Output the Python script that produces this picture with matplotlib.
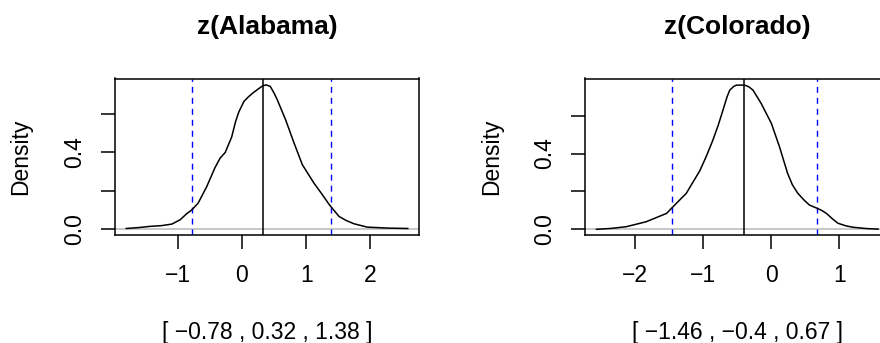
import matplotlib
matplotlib.use('Agg')
import matplotlib.pyplot as plt

plt.rcParams['font.family'] = ['Liberation Sans', 'DejaVu Sans']
plt.rcParams['lines.scale_dashes'] = False

# ── data ─────────────────────────────────────────────────────────────────────
names = ['Alabama', 'Colorado']

ala_x = [-1.80, -1.60, -1.43, -1.25, -1.09, -0.96, -0.86, -0.78, -0.68, -0.62,
         -0.55, -0.42, -0.34, -0.26, -0.16, -0.10, -0.05, 0.03, 0.10, 0.18,
         0.31, 0.375, 0.44, 0.50, 0.55, 0.68, 0.81, 0.94, 1.12, 1.25,
         1.36, 1.51, 1.62, 1.74, 1.95, 2.27, 2.58]
ala_y = [0.003, 0.008, 0.014, 0.018, 0.026, 0.049, 0.080, 0.100, 0.136, 0.175,
         0.22, 0.32, 0.37, 0.40, 0.48, 0.56, 0.61, 0.666, 0.69, 0.713,
         0.745, 0.753, 0.745, 0.71, 0.675, 0.57, 0.45, 0.336, 0.24, 0.18,
         0.127, 0.066, 0.045, 0.028, 0.010, 0.005, 0.003]

col_x = [-2.57, -2.35, -2.13, -1.84, -1.54, -1.47, -1.36, -1.25, -1.15, -1.05,
         -0.95, -0.86, -0.78, -0.71, -0.65, -0.61, -0.55, -0.51, -0.39, -0.33,
         -0.27, -0.15, 0.0, 0.12, 0.24, 0.31, 0.39, 0.48, 0.56, 0.68,
         0.74, 0.81, 0.90, 0.98, 1.10, 1.20, 1.40, 1.57]
col_y = [0.0, 0.005, 0.014, 0.04, 0.084, 0.11, 0.15, 0.19, 0.25, 0.31,
         0.39, 0.47, 0.55, 0.63, 0.70, 0.735, 0.755, 0.761, 0.761, 0.752,
         0.735, 0.665, 0.56, 0.436, 0.295, 0.235, 0.19, 0.155, 0.128, 0.11,
         0.10, 0.084, 0.055, 0.032, 0.018, 0.011, 0.004, 0.001]

# lower quantile, median, upper quantile
ala_q = [-0.78, 0.32, 1.38]
col_q = [-1.46, -0.4, 0.67]

curves = [(ala_x, ala_y, ala_q), (col_x, col_y, col_q)]
xlims = [(-1.975, 2.755), (-2.735, 1.735)]
ylims = [(-0.031, 0.786), (-0.030, 0.796)]
xticks = [[-1, 0, 1, 2], [-2, -1, 0, 1]]
yticks = [0.0, 0.2, 0.4, 0.6]
ytick_labels = ['0.0', '', '0.4', '']

fig = plt.figure(figsize=(8.8, 3.43), dpi=100)
W, H = 880, 343
lefts = [115, 585.3]

for i, (xs, ys, q) in enumerate(curves):
    ax = fig.add_axes([lefts[i] / W, 108 / H, 304 / W, 156.5 / H])
    ax.axhline(0, color='#bebebe', lw=1.2, zorder=1)
    ax.plot(xs, ys, color='black', lw=1.1, zorder=3)
    ax.axvline(q[1], color='black', lw=1.1, zorder=2)
    for v in (q[0], q[2]):
        ax.axvline(v, color='#0000ff', lw=1.0, dashes=(4.3, 3.6), zorder=2)

    ax.set_xlim(*xlims[i])
    ax.set_ylim(*ylims[i])
    ax.set_xticks(xticks[i])
    ax.set_yticks(yticks)
    ax.set_yticklabels(ytick_labels, rotation=90, va='center')
    ax.tick_params(direction='out', length=10, width=1.1, labelsize=16.5, pad=11)
    for s in ax.spines.values():
        s.set_linewidth(1.1)

    ax.set_title(f'z({names[i]})', fontsize=19, fontweight='bold',
                 y=1.33, va='center', pad=0)
    ax.set_ylabel('Density', fontsize=16.5, va='center')
    ax.yaxis.set_label_coords(-0.309, 0.5)
    ax.set_xlabel(f'[ {q[0]:g} , {q[1]:g} , {q[2]:g} ]'.replace('-', '\u2212'),
                  fontsize=16.5, va='center')
    ax.xaxis.set_label_coords(0.5, -0.62)

fig.savefig('out.png', dpi=100)
